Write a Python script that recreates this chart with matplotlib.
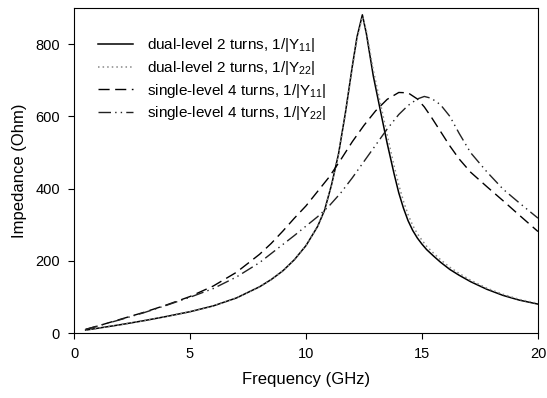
import matplotlib
matplotlib.use("Agg")
import matplotlib.pyplot as plt

# values
f_dual = [0.5, 1, 2, 3, 4, 5, 6, 7, 8, 8.5, 9, 9.5, 10, 10.5, 10.8, 11.1, 11.4,
          11.7, 12, 12.2, 12.43, 12.6, 12.9, 13.2, 13.5, 13.8, 14.0, 14.2, 14.4,
          14.6, 14.8, 15.0, 15.2, 15.5, 15.8, 16.2, 16.6, 17.1, 17.8, 18.5, 19.2, 20]
y11_dual = [8, 13, 23, 34, 46, 59, 75, 97, 128, 148, 172, 203, 242, 295, 340, 410,
            495, 610, 740, 820, 881, 830, 712, 618, 525, 440, 388, 346, 311,
            284, 263, 246, 231, 213, 196, 176, 160, 142, 121, 104, 91, 80]
y22_dual = [8, 13, 23, 34, 46, 59, 75, 97, 128, 148, 172, 203, 242, 295, 340, 410,
            495, 608, 735, 815, 876, 838, 728, 638, 548, 462, 410, 365, 328,
            298, 275, 257, 240, 221, 203, 182, 165, 146, 124, 107, 93, 82]

f_single = [0.5, 1, 2, 3, 4, 5, 6, 7, 8, 8.5, 9, 9.5, 10, 10.5, 11, 11.5, 12,
            12.5, 13, 13.5, 14, 14.4, 14.8, 15.1, 15.4, 15.8, 16.2, 16.6, 17.1,
            17.8, 18.5, 19.2, 20]
y11_single = [10, 19, 38, 57, 78, 101, 130, 168, 218, 248, 282, 318, 352, 392,
              432, 480, 530, 575, 615, 647, 666, 665, 648, 626, 598, 558, 518,
              482, 445, 405, 366, 326, 281]
y22_single = [10, 19, 37, 56, 77, 99, 123, 155, 195, 220, 245, 270, 296, 322,
              352, 388, 430, 475, 520, 565, 605, 630, 648, 655, 650, 632, 600,
              553, 499, 446, 398, 360, 318]

labels = ["dual-level 2 turns, 1/|Y$_{11}$|",
          "dual-level 2 turns, 1/|Y$_{22}$|",
          "single-level 4 turns, 1/|Y$_{11}$|",
          "single-level 4 turns, 1/|Y$_{22}$|"]

plt.rcParams['font.family'] = ['Liberation Sans', 'DejaVu Sans']
plt.rcParams['mathtext.fontset'] = 'custom'
plt.rcParams['mathtext.rm'] = 'Liberation Sans'
plt.rcParams['mathtext.it'] = 'Liberation Sans'

fig = plt.figure(figsize=(5.47, 3.98), dpi=100)
ax = fig.add_axes([0.1353, 0.1633, 0.8482, 0.8167])

ax.plot(f_dual, y11_dual, color='black', lw=1.1, label=labels[0])
ax.plot(f_dual, y22_dual, color='#888888', lw=1.1, linestyle=(0, (1, 2)), label=labels[1])
ax.plot(f_single, y11_single, color='black', lw=1.0, linestyle=(0, (8, 4)), label=labels[2])
ax.plot(f_single, y22_single, color='#222222', lw=1.0,
        linestyle=(0, (9, 3, 1, 3, 1, 3)), label=labels[3])

ax.set_xlim(0, 20)
ax.set_ylim(0, 900)
ax.set_xticks([0, 5, 10, 15, 20])
ax.set_yticks([0, 200, 400, 600, 800])
ax.tick_params(direction='out', length=4, width=0.8, labelsize=10.5, pad=6)
ax.set_xlabel('Frequency (GHz)', fontsize=12, labelpad=8)
ax.set_ylabel('Impedance (Ohm)', fontsize=12, labelpad=6)
for s in ax.spines.values():
    s.set_linewidth(0.8)

ax.legend(loc='upper left', bbox_to_anchor=(0.022, 0.955), frameon=False,
          fontsize=11, handlelength=2.3, handletextpad=0.9, labelspacing=0.3)

fig.savefig('out.png', dpi=100)
